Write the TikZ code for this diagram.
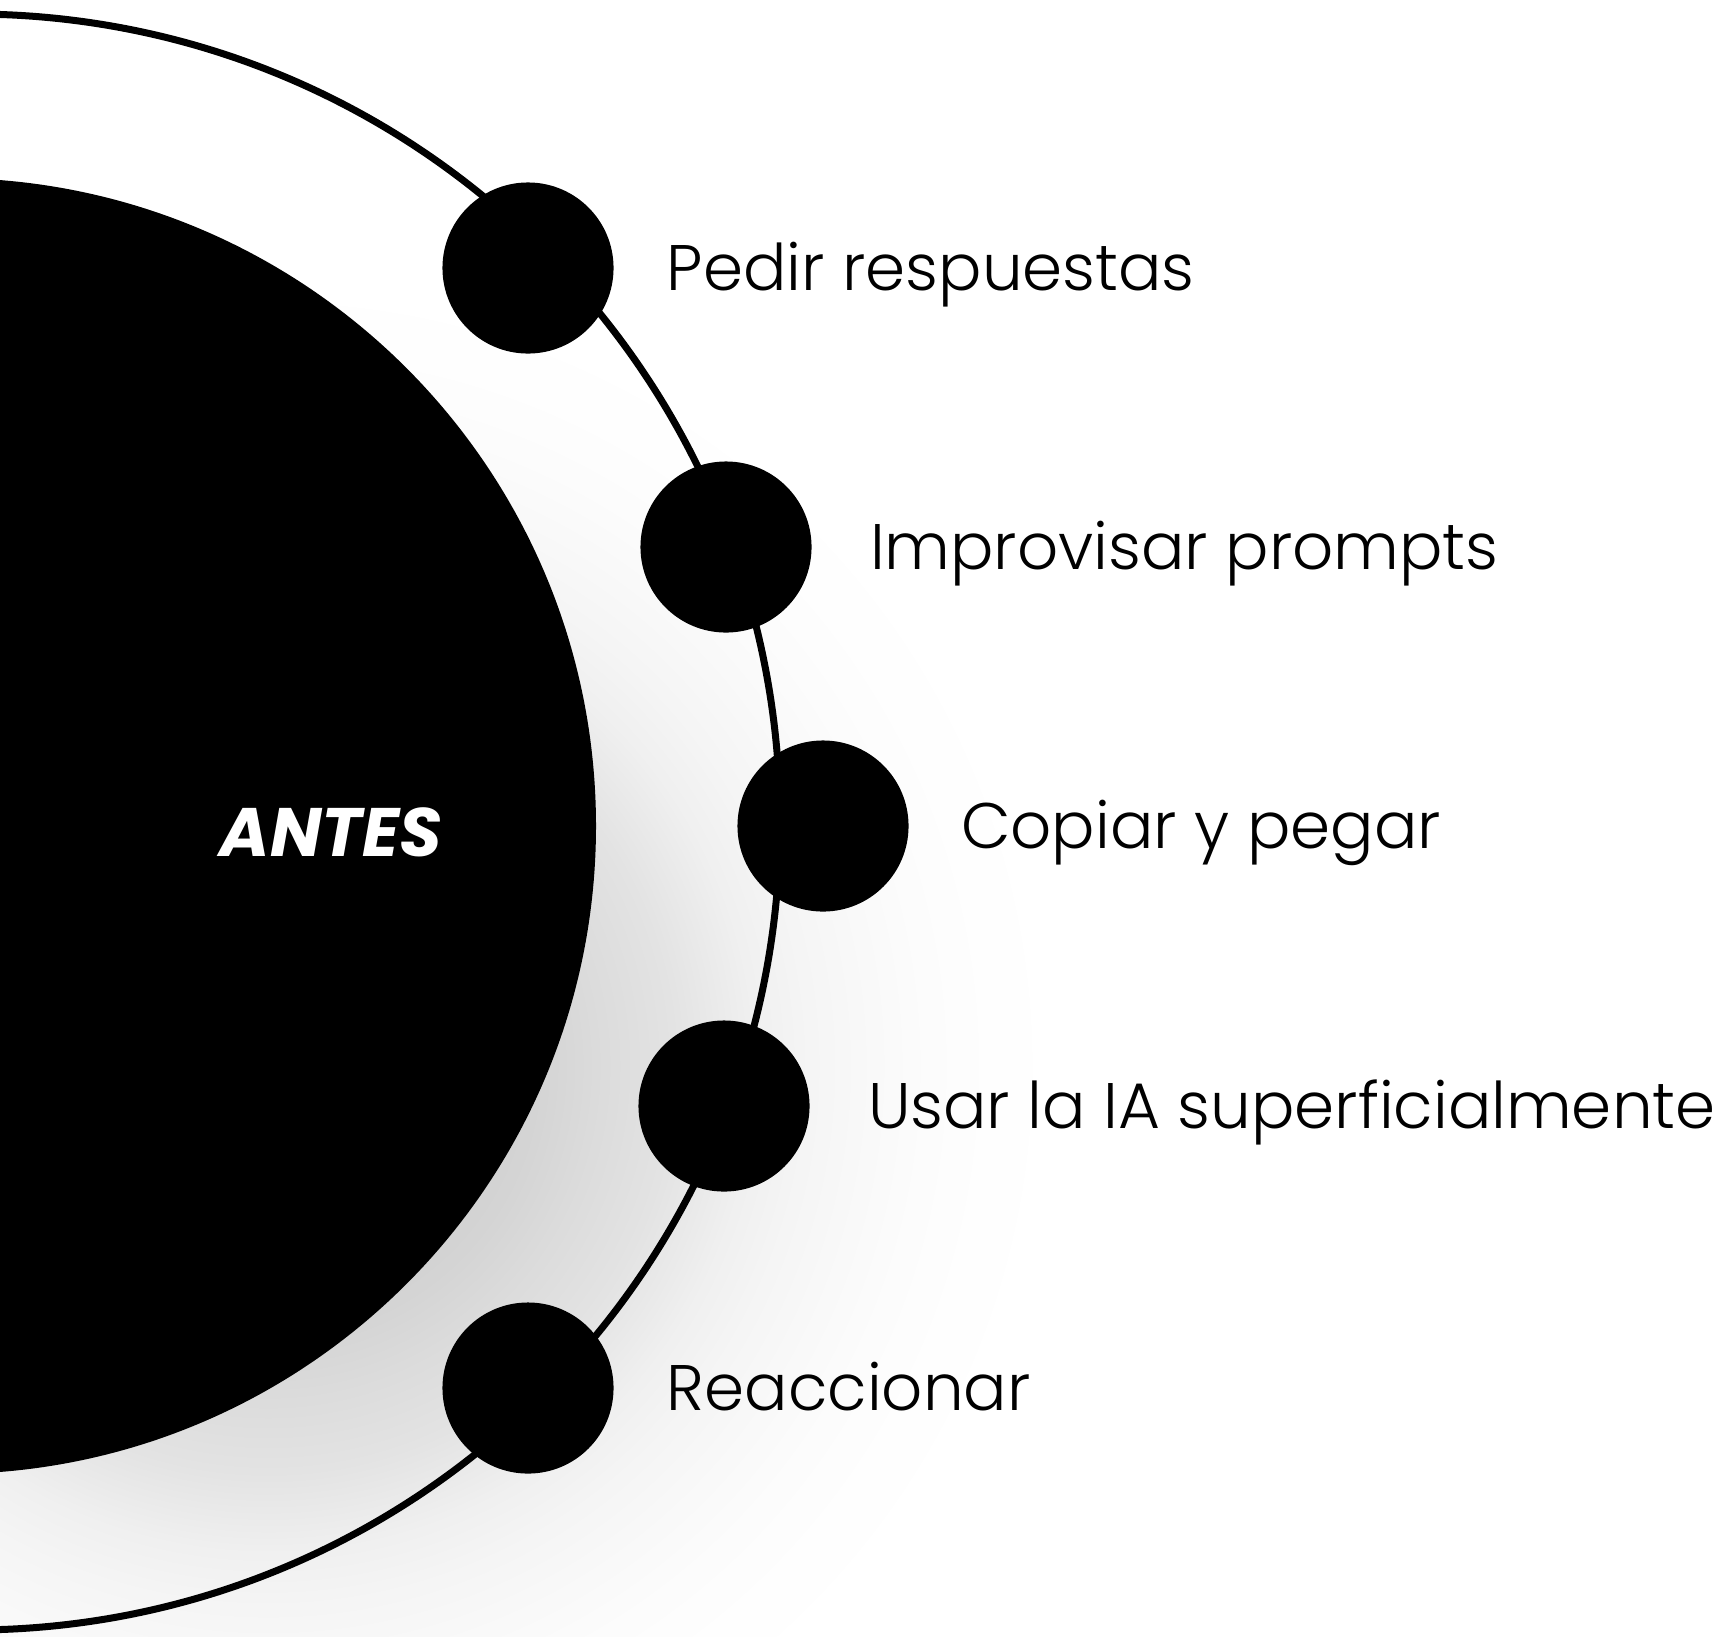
\documentclass[tikz,border=0pt]{standalone}
\usepackage{fontspec}
\setmainfont{Poppins}
\newfontfamily\lightfont{Poppins Light}
\usepackage{tikz}
\usetikzlibrary{positioning}

\pgfdeclareradialshading{antesshadow}{\pgfpoint{0bp}{0bp}}{color(0bp)=(black!20); color(7.56bp)=(black!17); color(9.38bp)=(black!14); color(11.53bp)=(black!11); color(13.81bp)=(black!6); color(15.34bp)=(black!4); color(17.05bp)=(black!2.5); color(18.75bp)=(black!1.2); color(20.63bp)=(black!0.4); color(22.73bp)=(white); color(50bp)=(white)}

\tikzset{
  dot/.style={circle, fill=black, inner sep=0pt, minimum size=1.71cm},
  item/.style={inner sep=0pt, text height=0.45cm, text depth=0pt, font=\lightfont\fontsize{18.3}{22}\selectfont},
}

\begin{document}
\begin{tikzpicture}[x=0.01cm,y=-0.01cm]
        \clip (0,0) rectangle (1731,1636);
        \shade[shading=antesshadow] (268,1066) circle[radius=880];
        \fill[black] (-52,826) circle[radius=648];
        \draw[line width=0.07cm] (-28,822) circle[radius=808];
        \node[text=white, font=\fontsize{19.5}{22}\selectfont\bfseries\itshape] (antes) at (331,832) {ANTES};
        \node[dot] (pedir) at (528,268) {};
        \node[item, right=0.52cm of pedir] {Pedir respuestas};
        \node[dot] (improvisar) at (726,547) {};
        \node[item, right=0.57cm of improvisar] {Improvisar prompts};
        \node[dot] (copiar) at (823,826) {};
        \node[item, right=0.51cm of copiar] {Copiar y pegar};
        \node[dot] (usar) at (724,1106) {};
        \node[item, right=0.57cm of usar] {Usar la IA superficialmente};
        \node[dot] (reaccionar) at (528,1388) {};
        \node[item, right=0.52cm of reaccionar] {Reaccionar};
    \end{tikzpicture}
\end{document}
